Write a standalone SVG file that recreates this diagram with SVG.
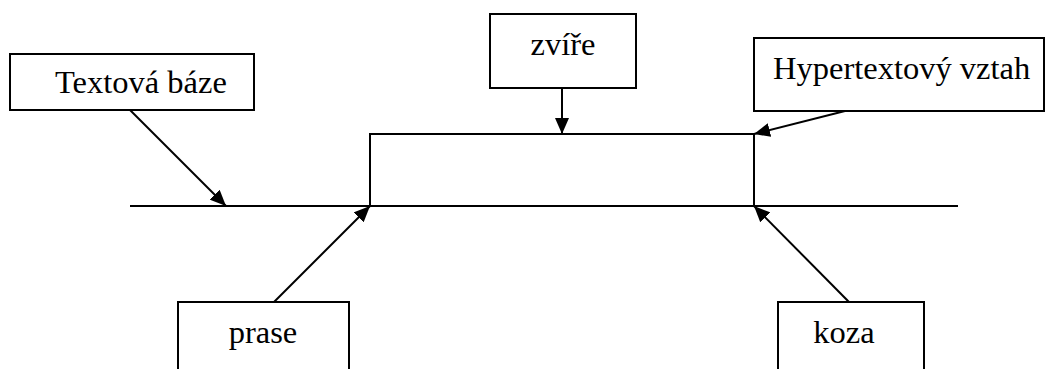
<svg xmlns="http://www.w3.org/2000/svg" width="1045" height="369" viewBox="0 0 1045 369">
<style>
.box{fill:#fff;stroke:#000;stroke-width:2}
.ln{fill:none;stroke:#000;stroke-width:2}
.t{font-family:"Liberation Serif","Times New Roman",serif;font-size:32.5px;fill:#000}
</style>
<defs>
<marker id="ah" viewBox="0 0 16 14" refX="16" refY="7" markerWidth="16" markerHeight="14" markerUnits="userSpaceOnUse" orient="auto">
<path d="M0,0 L16,7 L0,14 Z" fill="#000"/>
</marker>
</defs>
<rect width="1045" height="369" fill="#fff"/>
<g id="connectors">
<line class="ln" x1="130" y1="206" x2="958" y2="206"/>
<polyline class="ln" points="370,206 370,134 754,134 754,206"/>
<line class="ln" x1="130" y1="110" x2="226" y2="206" marker-end="url(#ah)"/>
<line class="ln" x1="562" y1="88" x2="562" y2="134" marker-end="url(#ah)"/>
<line class="ln" x1="845" y1="111" x2="754" y2="134" marker-end="url(#ah)"/>
<line class="ln" x1="274" y1="302" x2="370" y2="206" marker-end="url(#ah)"/>
<line class="ln" x1="849" y1="302" x2="754" y2="206" marker-end="url(#ah)"/>
</g>
<g id="textova-baze">
<rect class="box" x="10" y="54" width="244" height="56"/>
<text class="t" x="55" y="93">Textová báze</text>
</g>
<g id="zvire">
<rect class="box" x="490" y="14" width="146" height="74"/>
<text class="t" x="563" y="55" text-anchor="middle">zvíře</text>
</g>
<g id="hypertextovy-vztah">
<rect class="box" x="754" y="38" width="290" height="73"/>
<text class="t" x="773" y="79">Hypertextový vztah</text>
</g>
<g id="prase">
<rect class="box" x="178" y="302" width="171" height="80"/>
<text class="t" x="263" y="343" text-anchor="middle">prase</text>
</g>
<g id="koza">
<rect class="box" x="778" y="302" width="146" height="80"/>
<text class="t" x="844" y="343" text-anchor="middle">koza</text>
</g>
</svg>
